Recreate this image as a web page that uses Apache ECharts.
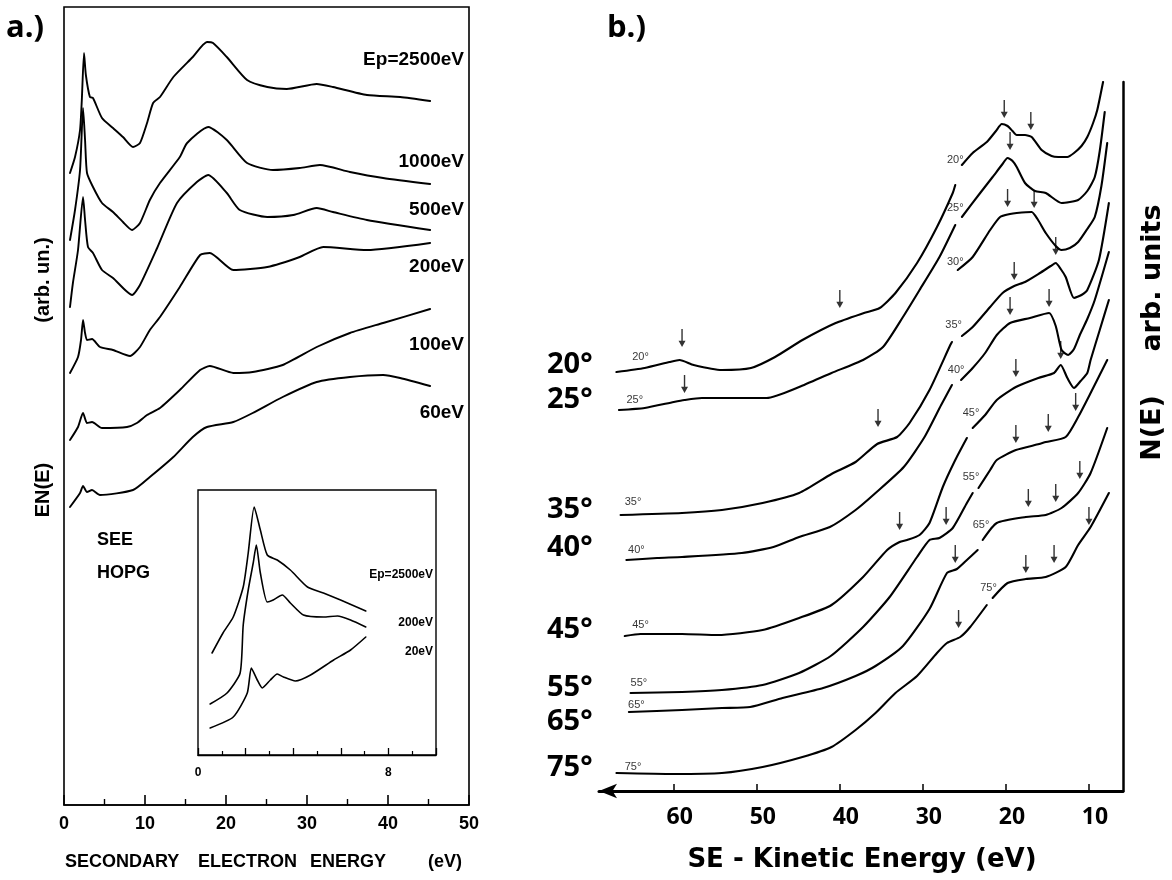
<!DOCTYPE html>
<html><head><meta charset="utf-8">
<script src="https://cdn.jsdelivr.net/npm/echarts@6/dist/echarts.min.js"></script>
<style>html,body{margin:0;padding:0;background:#fff}#c{width:1172px;height:880px}</style>
</head><body><div id="c"></div>
<script>
// ---------- Panel a: SEE of HOPG, EN(E) (arb. un.) vs secondary electron energy (eV) ----------
const aTicks = [0, 10, 20, 30, 40, 50];
const aLabels = ['Ep=2500eV', '1000eV', '500eV', '200eV', '100eV', '60eV'];
const a2500 = [[0.74,632],[1.36,648],[1.98,675],[2.2,705],[2.47,752],[2.7,730],[3.2,708],[3.58,707],[4.69,687],[6.05,677],[7.28,668],[8.52,658],[9.38,662],[10.25,682],[11.0,702],[11.85,708],[13.5,728],[15.9,748],[17.65,763],[18.4,762],[20.1,748],[22.6,725],[25.1,718],[27.5,716],[31.2,721],[33.2,718],[37.4,710],[41.5,708],[45.2,704]];
const a1000 = [[0.74,565],[1.36,595],[1.98,635],[2.35,697],[2.6,665],[2.84,632],[3.58,618],[4.69,602],[6.05,593],[7.28,583],[8.4,575],[9.38,582],[10.6,605],[11.85,622],[14.3,648],[15.2,662],[17.8,678],[20.1,665],[22.6,642],[25.8,635],[29.1,637],[31.6,640],[35.3,633],[39.4,627],[45.2,621]];
const a500 = [[0.74,498],[1.1,522],[1.73,555],[2.35,608],[2.6,585],[2.96,558],[3.58,552],[4.69,535],[6.05,527],[8.4,510],[9.38,520],[11.5,557],[13.95,602],[16.4,623],[17.8,630],[20.1,612],[21.7,595],[25.1,588],[28.3,590],[31.2,597],[33.2,593],[37.4,585],[45.2,575]];
const a200 = [[0.74,432],[1.73,448],[2.1,465],[2.35,485],[2.6,472],[2.84,465],[3.46,466],[4.44,458],[6.05,455],[8.15,449],[9.38,458],[10.6,475],[11.85,488],[14.3,518],[16.8,550],[18.0,552],[20.9,535],[25.1,538],[29.1,548],[32.0,558],[37.4,555],[45.2,562]];
const a100 = [[0.74,365],[1.73,378],[2.35,392],[2.84,382],[3.46,383],[4.69,377],[7.78,378],[9.0,382],[10.25,390],[11.85,397],[14.3,415],[16.8,435],[18.0,439],[20.9,432],[23.3,433],[27.0,440],[31.2,458],[35.3,472],[39.4,482],[45.2,496]];
const a60 = [[0.74,298],[1.98,312],[2.35,319],[2.84,313],[3.46,315],[4.44,310],[8.52,315],[10.6,328],[13.5,348],[15.9,368],[17.65,378],[20.9,383],[23.3,392],[27.0,408],[31.2,423],[35.3,428],[39.4,430],[41.5,427],[45.2,419]];
// inset (0-10 eV)
const inTickLabels = [0, 8];
const inLabels = ['Ep=2500eV', '200eV', '20eV'];
const in2500 = [[0.59,102],[1.05,122],[1.48,138],[1.9,168],[2.11,202],[2.36,248],[2.62,225],[2.91,200],[3.33,195],[3.88,185],[4.6,168],[5.27,162],[5.99,155],[7.05,144]];
const in200 = [[0.51,51],[1.22,62],[1.77,82],[1.9,130],[2.11,165],[2.32,192],[2.45,210],[2.62,182],[2.91,153],[3.16,155],[3.54,160],[3.88,152],[4.43,140],[5.27,138],[5.86,139],[6.41,135],[7.05,128]];
const in20 = [[0.51,27],[1.48,38],[2.07,62],[2.24,87],[2.49,75],[2.7,67],[3.04,75],[3.33,81],[3.59,78],[4.09,74],[4.73,80],[5.7,95],[6.41,105],[7.05,118]];

// ---------- Panel b: N(E) arb. units vs SE kinetic energy (eV), emission angles ----------
const bTicks = [10, 20, 30, 40, 50, 60];
const bAngles = ['20°', '25°', '35°', '40°', '45°', '55°', '65°', '75°'];
const b20 = [[66.9,419],[63.5,423],[60.5,429],[59.3,431],[57.6,426],[54.2,421],[50.7,423],[47.8,434],[44.5,451],[40.5,468],[37.1,478],[35.2,483],[33.3,498],[30.7,528],[28.3,564],[26.4,598],[26.1,606],[25.7,null],[25.3,626],[24.0,638],[22.3,649],[21.2,660],[20.5,667],[19.8,665],[19.2,660],[18.7,656],[17.7,656],[16.9,654],[15.7,641],[14.5,635],[13.7,634],[12.6,634],[11.8,638],[10.9,645],[10.2,654],[9.5,668],[9.0,681],[8.3,709]];
const b25 = [[66.6,381],[63.5,383],[60.0,389],[58.7,391],[56.6,393],[52.8,393],[48.8,393],[44.9,404],[41.0,418],[37.2,431],[34.8,444],[32.4,474],[30.4,501],[28.0,534],[26.1,566],[25.7,null],[25.3,574],[23.1,598],[21.6,614],[20.5,626],[19.8,633],[19.2,630],[18.7,624],[17.7,608],[16.5,600],[15.2,598],[13.3,588],[11.3,591],[10.2,600],[9.3,614],[8.7,640],[8.1,679]];
const b30 = [[25.8,521],[24.0,534],[21.9,561],[20.7,574],[19.5,577],[18.7,578],[16.9,579],[16.2,572],[15.2,558],[14.0,545],[13.3,541],[12.3,543],[11.3,549],[10.2,562],[9.3,574],[8.5,605],[7.8,648]];
const b35 = [[66.4,276],[59.0,278],[54.2,281],[49.3,288],[44.9,298],[41.0,317],[38.1,329],[35.5,347],[33.1,354],[31.6,368],[29.2,401],[26.7,446],[26.5,449],[25.9,null],[25.3,455],[24.0,464],[21.9,484],[20.4,498],[19.0,505],[17.7,509],[15.9,518],[14.6,525],[14.0,528],[13.4,522],[12.8,514],[11.8,493],[10.9,496],[10.2,501],[8.8,531],[7.6,588]];
const b40 = [[65.7,231],[62.0,233],[59.0,234],[51.8,238],[48.0,244],[44.9,254],[41.2,264],[38.1,281],[35.7,298],[32.3,324],[29.8,354],[27.8,386],[26.5,406],[25.9,null],[25.4,411],[24.0,423],[22.5,438],[21.1,456],[19.5,468],[17.1,473],[14.8,478],[14.0,465],[13.3,441],[12.5,436],[11.8,442],[11.1,456],[10.2,472],[9.3,491],[7.6,539]];
const b45 = [[65.9,155],[64.0,157],[59.0,157],[54.7,156],[49.3,161],[44.9,173],[41.0,186],[37.2,214],[34.3,241],[32.8,249],[31.9,251],[30.4,256],[29.2,268],[27.6,304],[26.1,331],[24.7,353],[24.3,null],[24.0,363],[22.5,376],[21.1,391],[18.8,404],[16.1,413],[14.2,418],[13.4,426],[12.6,413],[11.8,403],[11.0,410],[10.2,418],[9.8,431],[8.7,461],[7.6,491]];
const b55 = [[65.2,98],[59.0,99],[54.2,101],[49.3,106],[44.9,118],[41.1,135],[37.2,164],[34.0,194],[30.7,234],[29.2,251],[28.0,253],[26.4,263],[24.7,288],[24.0,298],[23.7,null],[23.3,303],[21.9,321],[21.1,331],[18.8,341],[16.0,347],[15.2,349],[12.8,354],[11.3,374],[9.8,398],[7.8,431]];
const b65 = [[65.4,79],[59.0,81],[54.2,83],[50.8,84],[46.9,93],[42.0,103],[38.1,115],[35.7,125],[32.4,145],[29.2,182],[27.1,218],[25.9,222],[24.7,231],[23.4,241],[23.1,null],[22.8,251],[21.1,268],[17.6,274],[15.2,276],[13.3,283],[11.3,298],[9.8,318],[7.8,363]];
const b75 = [[66.9,18],[60.0,17],[54.2,18],[49.3,24],[44.5,34],[41.0,44],[38.1,61],[35.7,78],[33.3,98],[30.7,115],[28.3,138],[27.1,148],[25.5,154],[24.3,164],[22.3,186],[22.0,null],[21.6,193],[19.8,208],[17.6,212],[15.2,214],[12.8,224],[11.3,246],[9.8,264],[7.6,298]];
// marked features (arrow tips)
const bArrowE = [59.0,40.0,20.2,17.0, 58.7,19.5, 19.8,16.6, 35.4,19.0,14.0, 19.5,14.8, 32.8,18.8,13.4, 27.2,18.8,14.9,11.6, 26.1,17.3,14.0,11.1, 25.7,17.6,14.2,10.0];
const bArrowV = [444,483,673,661, 398,641, 584,583, 364,511,536, 476,484, 261,414,432, 266,348,359,380, 228,284,289,312, 163,218,228,266];
// small curve tags
const bLeftTags = [[64.0,434,'20°'],[64.7,391,'25°'],[64.9,289,'35°'],[64.5,241,'40°'],[64.0,166,'45°'],[64.2,108,'55°'],[64.5,86,'65°'],[64.9,24,'75°']];
const bRightTags = [[26.1,631,'20°'],[26.1,583,'25°'],[26.1,529,'30°'],[26.3,466,'35°'],[26.0,421,'40°'],[24.2,378,'45°'],[24.2,314,'55°'],[23.0,266,'65°'],[22.1,203,'75°']];

const BLK = '#000';
const fa = '"Liberation Sans", Arial, sans-serif';
const fb = '"Open Sans", "DejaVu Sans", sans-serif';
const fd = '"DejaVu Sans", sans-serif';

function lineS(data, xi, yi, w) {
  return { type: 'line', data: data, xAxisIndex: xi, yAxisIndex: yi, showSymbol: false, symbol: 'none',
    smooth: 0.2, connectNulls: false, silent: true,
    lineStyle: { color: BLK, width: w || 1.8, join: 'round', cap: 'round' } };
}

const series = [];
[a2500, a1000, a500, a200, a100, a60].forEach(d => series.push(lineS(d, 0, 0, 1.9)));
[in2500, in200, in20].forEach(d => series.push(lineS(d, 1, 1, 1.6)));
[b20, b25, b30, b35, b40, b45, b55, b65, b75].forEach(d => series.push(lineS(d, 2, 2, 2.1)));
series.push({ type: 'scatter', xAxisIndex: 2, yAxisIndex: 2, silent: true,
  data: bArrowE.map((e, i) => [e, bArrowV[i]]),
  symbol: 'path://M4,0 L6,0 L6,13 L10,13 L5,20 L0,13 L4,13 Z', symbolSize: [7, 18], symbolOffset: [0, '-50%'],
  itemStyle: { color: BLK } });
series.push({ type: 'scatter', xAxisIndex: 2, yAxisIndex: 2, silent: true,
  data: bLeftTags.concat(bRightTags), symbolSize: 0,
  label: { show: true, position: 'inside', formatter: p => p.value[2], color: BLK, fontSize: 11, fontFamily: fa } });

// text annotations
const graphic = [
  { type: 'text', x: 6, y: 28, style: { text: 'a.)', font: 'bold 31px ' + fb, fill: BLK, verticalAlign: 'middle' } },
  { type: 'text', x: 607, y: 28, style: { text: 'b.)', font: 'bold 31px ' + fb, fill: BLK, verticalAlign: 'middle' } },
  { type: 'text', x: 43, y: 280, rotation: Math.PI / 2, style: { text: '(arb. un.)', font: 'bold 20px ' + fa, fill: BLK, align: 'center', verticalAlign: 'middle' } },
  { type: 'text', x: 43, y: 490, rotation: Math.PI / 2, style: { text: 'EN(E)', font: 'bold 20px ' + fa, fill: BLK, align: 'center', verticalAlign: 'middle' } },
  { type: 'text', x: 97, y: 540, style: { text: 'SEE', font: 'bold 18px ' + fa, fill: BLK, verticalAlign: 'middle' } },
  { type: 'text', x: 97, y: 573, style: { text: 'HOPG', font: 'bold 18px ' + fa, fill: BLK, verticalAlign: 'middle' } },
  { type: 'text', x: 65, y: 862, style: { text: 'SECONDARY', font: 'bold 18px ' + fa, fill: BLK, verticalAlign: 'middle' } },
  { type: 'text', x: 198, y: 862, style: { text: 'ELECTRON', font: 'bold 18px ' + fa, fill: BLK, verticalAlign: 'middle' } },
  { type: 'text', x: 310, y: 862, style: { text: 'ENERGY', font: 'bold 18px ' + fa, fill: BLK, verticalAlign: 'middle' } },
  { type: 'text', x: 428, y: 862, style: { text: '(eV)', font: 'bold 18px ' + fa, fill: BLK, verticalAlign: 'middle' } },
  { type: 'text', x: 862, y: 860, style: { text: 'SE - Kinetic Energy (eV)', font: 'bold 26px ' + fd, fill: BLK, align: 'center', verticalAlign: 'middle' } },
  { type: 'text', x: 1153, y: 278, rotation: Math.PI / 2, style: { text: 'arb. units', font: 'bold 27px ' + fd, fill: BLK, align: 'center', verticalAlign: 'middle' } },
  { type: 'text', x: 1153, y: 428, rotation: Math.PI / 2, style: { text: 'N(E)', font: 'bold 27px ' + fd, fill: BLK, align: 'center', verticalAlign: 'middle' } }
];
const aLabelY = [60, 162, 210, 267, 345, 413];
aLabels.forEach((t, i) => graphic.push({ type: 'text', x: 464, y: aLabelY[i], style: { text: t, font: 'bold 19px ' + fa, fill: BLK, align: 'right', verticalAlign: 'middle' } }));
const inLabelY = [575, 623, 652];
inLabels.forEach((t, i) => graphic.push({ type: 'text', x: 433, y: inLabelY[i], style: { text: t, font: 'bold 12px ' + fa, fill: BLK, align: 'right', verticalAlign: 'middle' } }));
const bigY = [365, 400, 510, 548, 630, 688, 722, 768];
bAngles.forEach((t, i) => graphic.push({ type: 'text', x: 547, y: bigY[i], style: { text: t, font: 'bold 29px ' + fb, fill: BLK, verticalAlign: 'middle' } }));

const option = {
  backgroundColor: '#fff',
  animation: false,
  grid: [
    { left: 64, top: 7, width: 405, height: 798, show: true, borderColor: BLK, borderWidth: 1.6, backgroundColor: 'transparent' },
    { left: 198, top: 490, width: 238, height: 265, show: true, borderColor: BLK, borderWidth: 1.4, backgroundColor: '#fff' },
    { left: 599, top: 82, width: 524, height: 709 }
  ],
  xAxis: [
    { gridIndex: 0, type: 'value', min: 0, max: 50, interval: 10,
      axisLine: { lineStyle: { color: BLK, width: 1.6 } },
      axisTick: { inside: true, length: 10, lineStyle: { color: BLK, width: 1.6 } },
      minorTick: { show: true, splitNumber: 2, length: 6, lineStyle: { color: BLK, width: 1.4 } },
      splitLine: { show: false },
      axisLabel: { margin: 10, color: BLK, fontSize: 18, fontWeight: 'bold', fontFamily: fa, formatter: v => aTicks.indexOf(v) >= 0 ? String(v) : '' } },
    { gridIndex: 1, type: 'value', min: 0, max: 10, interval: 2,
      axisLine: { lineStyle: { color: BLK, width: 1.4 } },
      axisTick: { inside: true, length: 7, lineStyle: { color: BLK, width: 1.3 } },
      minorTick: { show: true, splitNumber: 2, length: 4, lineStyle: { color: BLK, width: 1.2 } },
      splitLine: { show: false },
      axisLabel: { margin: 12, color: BLK, fontSize: 12, fontWeight: 'bold', fontFamily: fa, formatter: v => inTickLabels.indexOf(v) >= 0 ? String(v) : '' } },
    { gridIndex: 2, type: 'value', min: 5.9, max: 69.0, inverse: true,
      axisLine: { show: true, symbol: ['arrow', 'none'], symbolSize: [11, 18], lineStyle: { color: BLK, width: 3 } },
      axisTick: { show: true, inside: true, length: 7, customValues: bTicks, lineStyle: { color: BLK, width: 1.5 } },
      splitLine: { show: false },
      axisLabel: { margin: 15, padding: [0, 0, 0, 12], color: BLK, fontSize: 23, fontWeight: 'bold', fontFamily: fb, customValues: bTicks } }
  ],
  yAxis: [
    { gridIndex: 0, type: 'value', min: 0, max: 798, show: false },
    { gridIndex: 1, type: 'value', min: 0, max: 265, show: false },
    { gridIndex: 2, type: 'value', min: 0, max: 709, position: 'right',
      axisLine: { show: true, lineStyle: { color: BLK, width: 2.5 } },
      axisTick: { show: false }, axisLabel: { show: false }, splitLine: { show: false } }
  ],
  series: series,
  graphic: graphic
};
echarts.init(document.getElementById('c'), null, { renderer: 'canvas' }).setOption(option);
</script></body></html>
